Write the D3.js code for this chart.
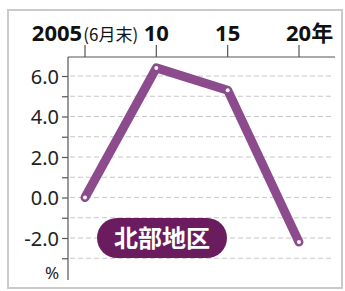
<!DOCTYPE html>
<html>
<head>
<meta charset="utf-8">
<script src="https://cdnjs.cloudflare.com/ajax/libs/d3/7.8.5/d3.min.js"></script>
<style>
  body { margin: 0; background: #fff; }
  svg { display: block; }
</style>
</head>
<body>
<div id="chart"></div>
<script>
// values
var years = [2005, 2010, 2015, 2020];
var values = [0.0, 6.4, 5.3, -2.2];
var yTicks = [-2, 0, 2, 4, 6];
var gridValues = [-3, -2, -1, 0, 1, 2, 3, 4, 5, 6];
var xLabels = ["2005", "10", "15", "20"];
var regionName = "北部地区";

var width = 345, height = 291;
var lineColor = "#8b4b8d";
var pillColor = "#6a1c5e";

var svg = d3.select("#chart").append("svg")
    .attr("width", width)
    .attr("height", height);

// outer frame
svg.append("rect")
    .attr("x", 8).attr("y", 10)
    .attr("width", 334).attr("height", 278)
    .attr("fill", "none")
    .attr("stroke", "#cacaca")
    .attr("stroke-width", 2);

var x = d3.scaleLinear().domain([2005, 2020]).range([85, 299]);
var y = d3.scaleLinear().domain([-2, 6]).range([238, 76]);

var axisLeftX = 68, axisRightX = 335, axisTopY = 57, axisBottomY = 280;

// dashed gridlines
svg.append("g").selectAll("line")
    .data(gridValues)
    .enter()
    .append("line")
    .attr("x1", axisLeftX + 2).attr("x2", 332)
    .attr("y1", function(d) { return y(d); })
    .attr("y2", function(d) { return y(d); })
    .attr("stroke", "#c8c8c8")
    .attr("stroke-width", 1.2)
    .attr("stroke-dasharray", "5,3");

// left axis
var yAxis = d3.axisLeft(y)
    .tickValues(gridValues)
    .tickSize(6)
    .tickFormat(function(d) { return yTicks.indexOf(d) >= 0 ? d.toFixed(1) : ""; });

var gy = svg.append("g")
    .attr("transform", "translate(" + axisLeftX + ",0)")
    .call(yAxis);
gy.select(".domain").remove();
gy.selectAll(".tick line").attr("stroke", "#555").attr("stroke-width", 1.2);
gy.selectAll(".tick text")
    .attr("x", -9)
    .attr("dy", "0.36em")
    .attr("fill", "#222")
    .style("font-family", "'Noto Sans', sans-serif")
    .style("font-size", "20px");

svg.append("line")
    .attr("x1", axisLeftX).attr("x2", axisLeftX)
    .attr("y1", axisTopY).attr("y2", axisBottomY)
    .attr("stroke", "#555").attr("stroke-width", 1.2);

// top axis
svg.append("line")
    .attr("x1", axisLeftX).attr("x2", axisRightX)
    .attr("y1", axisTopY).attr("y2", axisTopY)
    .attr("stroke", "#555").attr("stroke-width", 1.2);

svg.append("g").selectAll("line")
    .data(years)
    .enter()
    .append("line")
    .attr("x1", function(d) { return x(d); })
    .attr("x2", function(d) { return x(d); })
    .attr("y1", axisTopY - 12).attr("y2", axisTopY)
    .attr("stroke", "#555").attr("stroke-width", 1.2);

var labels = svg.append("g").selectAll("text")
    .data(years)
    .enter()
    .append("text")
    .attr("x", function(d) { return x(d); })
    .attr("y", 41)
    .attr("text-anchor", "middle")
    .attr("fill", "#111")
    .style("font-family", "'Noto Sans', 'Noto Sans CJK JP', sans-serif")
    .style("font-weight", "bold")
    .style("font-size", "22px");

labels.append("tspan")
    .text(function(d, i) { return xLabels[i]; });
labels.filter(function(d, i) { return i == 0; })
    .append("tspan")
    .style("font-size", "17px")
    .style("font-weight", "normal")
    .style("font-family", "'Noto Sans CJK JP', sans-serif")
    .attr("dx", 1)
    .text("(6月末)");
labels.filter(function(d, i) { return i == years.length - 1; })
    .append("tspan")
    .style("font-family", "'Noto Sans CJK JP', sans-serif")
    .text("年");

// keep "20" centred on its tick
labels.filter(function(d, i) { return i == years.length - 1; })
    .attr("text-anchor", "start")
    .attr("x", function(d) { return x(d) - 13; });

svg.append("text")
    .attr("x", 52).attr("y", 279)
    .attr("text-anchor", "middle")
    .attr("fill", "#222")
    .style("font-family", "'Noto Sans', sans-serif")
    .style("font-size", "17px")
    .text("%");

// the line
var data = years.map(function(d, i) { return {year: d, value: values[i]}; });
var line = d3.line()
    .x(function(d) { return x(d.year); })
    .y(function(d) { return y(d.value); });

svg.append("path")
    .datum(data)
    .attr("d", line)
    .attr("fill", "none")
    .attr("stroke", lineColor)
    .attr("stroke-width", 9)
    .attr("stroke-linejoin", "round")
    .attr("stroke-linecap", "round");

svg.append("g").selectAll("circle")
    .data(data)
    .enter()
    .append("circle")
    .attr("cx", function(d) { return x(d.year); })
    .attr("cy", function(d) { return y(d.value); })
    .attr("r", 2)
    .attr("fill", "#fff");

// region badge
svg.append("rect")
    .attr("x", 97).attr("y", 218)
    .attr("width", 130).attr("height", 40)
    .attr("rx", 20).attr("ry", 20)
    .attr("fill", pillColor);

svg.append("text")
    .attr("x", 162).attr("y", 247)
    .attr("text-anchor", "middle")
    .attr("fill", "#fff")
    .style("font-family", "'Noto Sans CJK JP', sans-serif")
    .style("font-weight", "bold")
    .style("font-size", "24px")
    .text(regionName);
</script>
</body>
</html>
